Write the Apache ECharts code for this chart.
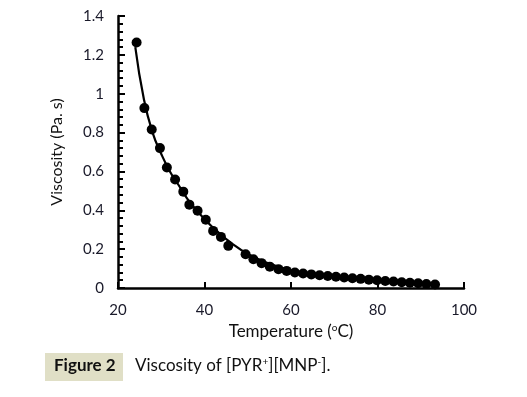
<!DOCTYPE html>
<html>
<head>
<meta charset="utf-8">
<script src="https://cdn.jsdelivr.net/npm/echarts@6/dist/echarts.min.js"></script>
<style>
  html, body { margin: 0; padding: 0; background: #fff; }
  #chart { width: 527px; height: 397px; }
</style>
</head>
<body>
<div id="chart"></div>
<script>
// measured points (temperature in oC, viscosity in Pa.s)
var temps = [24.3, 26.1, 27.8, 29.7, 31.3, 33.2, 35.1, 36.5, 38.4, 40.3, 42.0, 43.8, 45.5,
  49.5, 51.3, 53.2, 55.1, 57.1, 59.0, 60.9, 62.8, 64.7, 66.6, 68.5, 70.4, 72.3, 74.2,
  76.1, 78.0, 79.9, 81.8, 83.7, 85.6, 87.5, 89.4, 91.3, 93.3];
var viscosity = [1.264, 0.926, 0.816, 0.72, 0.62, 0.558, 0.496, 0.429, 0.398, 0.351, 0.294, 0.263, 0.217,
  0.174, 0.148, 0.128, 0.11, 0.097, 0.088, 0.08, 0.075, 0.07, 0.066, 0.062, 0.058, 0.054, 0.05,
  0.047, 0.043, 0.04, 0.036, 0.033, 0.03, 0.027, 0.024, 0.021, 0.018];
var errors = [0.015, 0.012, 0.012, 0.012, 0.012, 0.012, 0.012, 0.012, 0.012, 0.012, 0.012, 0.012, 0.012,
  0.01, 0.01, 0.01, 0.01, 0.01, 0.01, 0.01, 0.01, 0.01, 0.01, 0.01, 0.01, 0.01, 0.01,
  0.01, 0.01, 0.01, 0.01, 0.01, 0.01, 0.01, 0.01, 0.01, 0.01];
// fitted trend line
var fitTemps = [24.0, 26, 28, 30, 32, 34, 36, 38, 40, 43, 46, 50, 55, 60, 65, 70, 80, 90, 93.5];
var fitValues = [1.24, 0.97, 0.80, 0.69, 0.60, 0.53, 0.46, 0.405, 0.355, 0.29, 0.235, 0.175, 0.125, 0.09, 0.07, 0.057, 0.038, 0.025, 0.02];

var font = 'Lato, "Open Sans", sans-serif';

var pts = temps.map(function (t, i) { return [t, viscosity[i]]; });
var errPts = temps.map(function (t, i) { return [t, viscosity[i], errors[i]]; });
var fit = fitTemps.map(function (t, i) { return [t, fitValues[i]]; });

var myChart = echarts.init(document.getElementById('chart'));
var option = {
  animation: false,
  backgroundColor: '#fff',
  grid: { left: 118, right: 63, top: 16, bottom: 109 },
  xAxis: {
    type: 'value',
    min: 20, max: 100, interval: 20,
    name: '{a|Temperature (}{s|o}{a|C)}',
    nameLocation: 'middle',
    nameGap: 35,
    nameTextStyle: {
      rich: {
        a: { fontFamily: font, fontSize: 17, color: '#111' },
        s: { fontFamily: font, fontSize: 10, color: '#111', verticalAlign: 'top', padding: [0, 0, 8, 0] }
      }
    },
    axisLine: { lineStyle: { color: '#000', width: 2.5 } },
    axisTick: { inside: true, length: 6, lineStyle: { color: '#000', width: 2 } },
    axisLabel: { margin: 15, fontFamily: font, fontSize: 15, color: '#1a1a2a' },
    splitLine: { show: false }
  },
  yAxis: {
    type: 'value',
    min: 0, max: 1.4, interval: 0.2,
    name: 'Viscosity (Pa. s)',
    nameLocation: 'middle',
    nameGap: 53,
    nameTextStyle: { fontFamily: font, fontSize: 16, color: '#111' },
    axisLine: { show: true, lineStyle: { color: '#000', width: 2.5 } },
    axisTick: { inside: true, length: 7, lineStyle: { color: '#000', width: 2 } },
    minorTick: { show: true, splitNumber: 5, length: 5, lineStyle: { color: '#000', width: 2 } },
    axisLabel: {
      margin: 14, fontFamily: font, fontSize: 15, color: '#1a1a2a',
      formatter: function (v) { return String(+v.toFixed(1)); }
    },
    splitLine: { show: false }
  },
  series: [
    {
      name: 'fit',
      type: 'line',
      data: fit,
      smooth: 0.5,
      showSymbol: false,
      lineStyle: { color: '#000', width: 2.2 },
      z: 2
    },
    {
      name: 'error',
      type: 'custom',
      data: errPts,
      renderItem: function (params, api) {
        var x = api.value(0), y = api.value(1), e = api.value(2);
        var top = api.coord([x, y + e]);
        var bot = api.coord([x, y - e]);
        return {
          type: 'line',
          shape: { x1: top[0], y1: top[1], x2: bot[0], y2: bot[1] },
          style: { stroke: '#000', lineWidth: 2 }
        };
      },
      z: 3
    },
    {
      name: 'Viscosity',
      type: 'scatter',
      data: pts,
      symbol: 'circle',
      symbolSize: 10,
      itemStyle: { color: '#000', opacity: 1 },
      z: 4
    }
  ],
  graphic: [
    {
      type: 'rect',
      left: 45, top: 353,
      shape: { width: 78, height: 28 },
      style: { fill: '#e0dfc6' }
    },
    {
      type: 'text',
      left: 54, top: 357,
      style: { text: 'Figure 2', font: 'bold 17px ' + font, fill: '#111' }
    },
    {
      type: 'text',
      left: 135, top: 357,
      style: {
        text: '{a|Viscosity of [PYR}{s|+}{a|][MNP}{s|-}{a|].}',
        rich: {
          a: { fontFamily: font, fontSize: 17, fill: '#111' },
          s: { fontFamily: font, fontSize: 10, fill: '#111', verticalAlign: 'top', padding: [0, 0, 8, 0] }
        }
      }
    }
  ]
};
myChart.setOption(option);
</script>
</body>
</html>
